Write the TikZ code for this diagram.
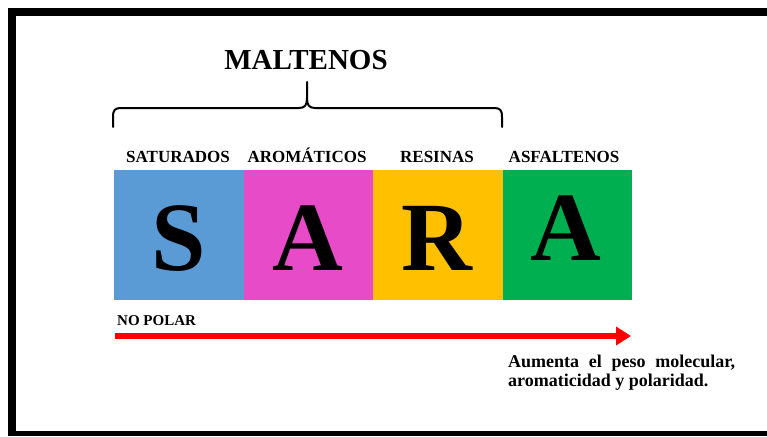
\documentclass[tikz,border=0pt]{standalone}
\usepackage{fontspec}
\setmainfont{Liberation Serif}
\usetikzlibrary{arrows.meta}
\definecolor{cblue}{HTML}{5B9BD5}
\definecolor{cmag}{HTML}{E84BC8}
\definecolor{cyel}{HTML}{FFC000}
\definecolor{cgreen}{HTML}{00B050}
\definecolor{cred}{HTML}{FF0000}
\begin{document}
\begin{tikzpicture}[x=1pt,y=-1pt,
  colbox/.style={minimum width=129.5pt, minimum height=130pt, inner sep=0pt, outer sep=0pt, draw=none},
  bigletter/.style={font=\fontsize{98}{98}\selectfont\bfseries, anchor=base, inner sep=0pt},
  lab/.style={font=\fontsize{17}{17}\selectfont\bfseries, anchor=base, inner sep=0pt},
  note/.style={font=\fontsize{18}{18}\selectfont\bfseries, anchor=base west, inner sep=0pt},
  framebar/.style={fill=black},
]
\useasboundingbox (0,0) rectangle (767,436);
\fill[white] (0,0) rectangle (767,436);
% frame
\fill[framebar] (8,8) rectangle (767,16);
\fill[framebar] (8,8) rectangle (16,436);
\fill[framebar] (8,431) rectangle (767,436);

% title and brace
\node[font=\fontsize{29}{29}\selectfont\bfseries, anchor=base, inner sep=0pt] (malt) at (306,70) {MALTENOS};
\draw[line width=2pt, line cap=round]
  (113,127) -- (113,117) .. controls (113,110) and (115,108) .. (121,108)
  -- (299,108) .. controls (305,108) and (307,105) .. (307,98) -- (307,82);
\draw[line width=2pt, line cap=round]
  (307,98) .. controls (307,105) and (309,108) .. (315,108)
  -- (494,108) .. controls (500,108) and (502,110) .. (502,117) -- (502,127);

% labels
\node[lab] (lsat) at (178,162) {SATURADOS};
\node[lab] (laro) at (307,162) {AROMÁTICOS};
\node[lab] (lres) at (437,162) {RESINAS};
\node[lab] (lasf) at (564,162) {ASFALTENOS};

% boxes
\node[colbox, fill=cblue]  (bsat) at (178.75,235) {};
\node[colbox, fill=cmag]   (baro) at (308.25,235) {};
\node[colbox, fill=cyel]   (bres) at (437.75,235) {};
\node[colbox, fill=cgreen] (basf) at (567.25,235) {};

% letters
\node[bigletter] (S)  at (179,270) {S};
\node[bigletter] (A1) at (308,270) {A};
\node[bigletter] (R)  at (437,270) {R};
\node[bigletter] (A2) at (566,260) {A};

% arrow
\node[font=\fontsize{15}{15}\selectfont\bfseries, anchor=base west, inner sep=0pt] (np) at (117,325) {NO POLAR};
\coordinate (a0) at (115,336);
\coordinate (a1) at (631,336);
\draw[cred, line width=6pt, -{Triangle[length=15pt,width=18pt]}] (a0) -- (a1);

% note
\node[note] (n1) at (508,367) {\makebox[227pt][s]{Aumenta el peso molecular,}};
\node[note] (n2) at (508,386) {aromaticidad y polaridad.};
\end{tikzpicture}
\end{document}
